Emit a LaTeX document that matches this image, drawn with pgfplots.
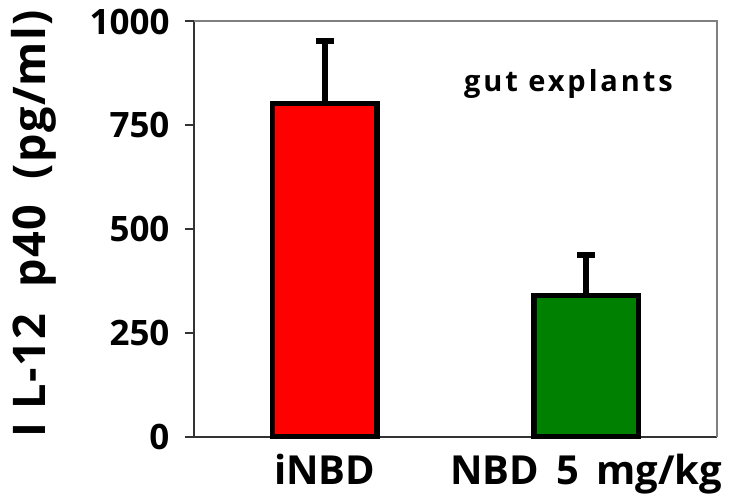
\documentclass[border=0pt]{standalone}
\usepackage{pgfplots}
\pgfplotsset{compat=1.18}
\usepackage{fontspec}
\setmainfont{Open Sans}
\definecolor{barred}{RGB}{255,0,0}
\definecolor{bargreen}{RGB}{0,128,0}
\begin{document}
\begin{tikzpicture}
\begin{axis}[
  name=ax,
  scale only axis,
  width=523pt, height=415.2pt,
  xmin=-0.5, xmax=1.5,
  ymin=0, ymax=1000,
  ytick={0,250,500,750,1000},
  xtick={0,1},
  xticklabels={iNBD, NBD\ \,5\ \,mg/kg},
  axis x line*=bottom,
  axis y line*=left,
  axis line style={line width=2pt, black!80},
  x axis line style={-},
  y axis line style={-},
  major tick length=9pt,
  ytick align=outside,
  xtick style={draw=none},
  ytick style={line width=2pt, black!80},
  /pgf/number format/assume math mode=true,
  /pgf/number format/1000 sep={},
  yticklabel style={font=\fontsize{35}{40}\selectfont\bfseries, xshift=-12pt},
  xticklabel style={font=\fontsize{40}{44}\selectfont\bfseries, yshift=-14pt},
  ylabel={I\ L-12\ \ p40\ \ (pg/ml)},
  ylabel style={font=\fontsize{45}{50}\selectfont\bfseries\addfontfeatures{LetterSpace=3}, at={(axis description cs:-0.306,0.513)}, anchor=center},
  clip=false,
]
\addplot[ybar, bar width=0.40, fill=barred, draw=black, line width=5.5pt,
  error bars/.cd, y dir=plus, y explicit, error mark=|,
  error bar style={line width=6pt, black},
  error mark options={line width=6pt, mark size=9pt, black}]
  coordinates {(0,802) +- (0,151)};
\addplot[ybar, bar width=0.40, fill=bargreen, draw=black, line width=5.5pt,
  error bars/.cd, y dir=plus, y explicit, error mark=|,
  error bar style={line width=6pt, black},
  error mark options={line width=6pt, mark size=9pt, black}]
  coordinates {(1,340) +- (0,98)};
\draw[gray, line width=2pt] (rel axis cs:0,1) -- (rel axis cs:1,1) -- (rel axis cs:1,0);
\node[font=\fontsize{29}{34}\selectfont\bfseries\addfontfeatures{LetterSpace=10}, anchor=base] at (axis cs:0.932,831) {gut explants};
\end{axis}
\pgfresetboundingbox
\useasboundingbox ([xshift=-194pt,yshift=-60.3pt]ax.south west) rectangle ([xshift=13pt,yshift=21.5pt]ax.north east);
\end{tikzpicture}
\end{document}
